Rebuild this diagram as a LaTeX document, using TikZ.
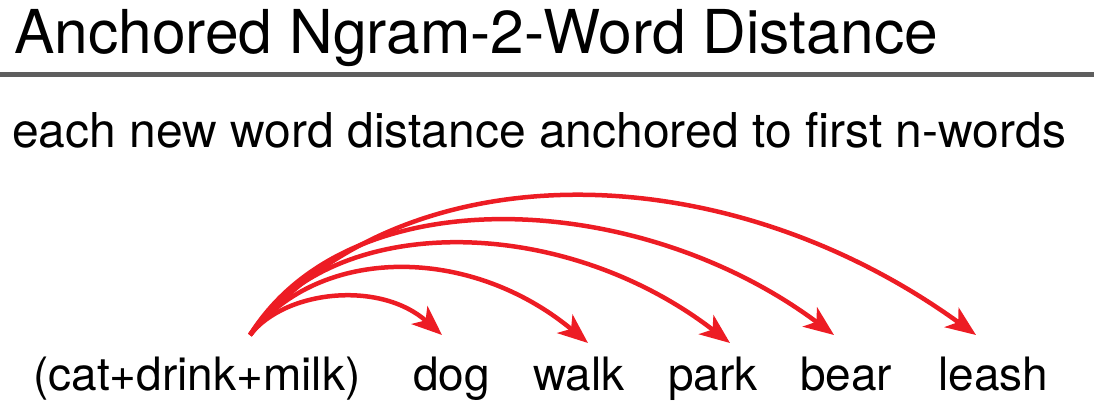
\documentclass[tikz,border=0pt]{standalone}
\usepackage{fontspec}
\setmainfont{TeX Gyre Heros}
\usetikzlibrary{arrows.meta}
\definecolor{arrred}{HTML}{ED1C24}
\definecolor{rulegray}{HTML}{5E5E5E}
\tikzset{
  word/.style={anchor=base west, inner sep=0pt, font=\fontsize{46}{50}\selectfont},
  link/.style={draw=arrred, line width=4.5pt, -{Stealth[length=30pt,width=24pt,inset=8pt]}},
}
\begin{document}
\begin{tikzpicture}[x=1pt,y=-1pt]
\useasboundingbox (0,0) rectangle (1094,416);
\node[anchor=base west, inner sep=0pt, font=\fontsize{60.5}{66}\selectfont] (title) at (14,53) {Anchored Ngram-2-Word Distance};
\draw[rulegray, line width=5pt] (0,74) coordinate (rl) -- (1094,74) coordinate (rr);
\node[anchor=base west, inner sep=0pt, font=\fontsize{48}{54}\selectfont] (sub) at (12,147) {each new word distance anchored to first n-words};
\node[word] (anchor) at (33,390) {(cat+drink+milk)};
\node[word] (dog) at (413,390) {dog};
\node[word] (walk) at (533,390) {walk};
\node[word] (park) at (668,390) {park};
\node[word] (bear) at (800,390) {bear};
\node[word] (leash) at (938,390) {leash};
\coordinate (s) at (250,335);
\coordinate (tdog) at (442,335);
\coordinate (twalk) at (588,343);
\coordinate (tpark) at (730,343);
\coordinate (tbear) at (834,335);
\coordinate (tleash) at (976,335);
\draw[link] (s) .. controls (285,290) and (380,280) .. (tdog);
\draw[link] (s) .. controls (320,245) and (470,245) .. (twalk);
\draw[link] (s) .. controls (330,212) and (560,212) .. (tpark);
\draw[link] (s) .. controls (350,175) and (640,190) .. (tbear);
\draw[link] (s) .. controls (400,150) and (720,150) .. (tleash);
\end{tikzpicture}
\end{document}
